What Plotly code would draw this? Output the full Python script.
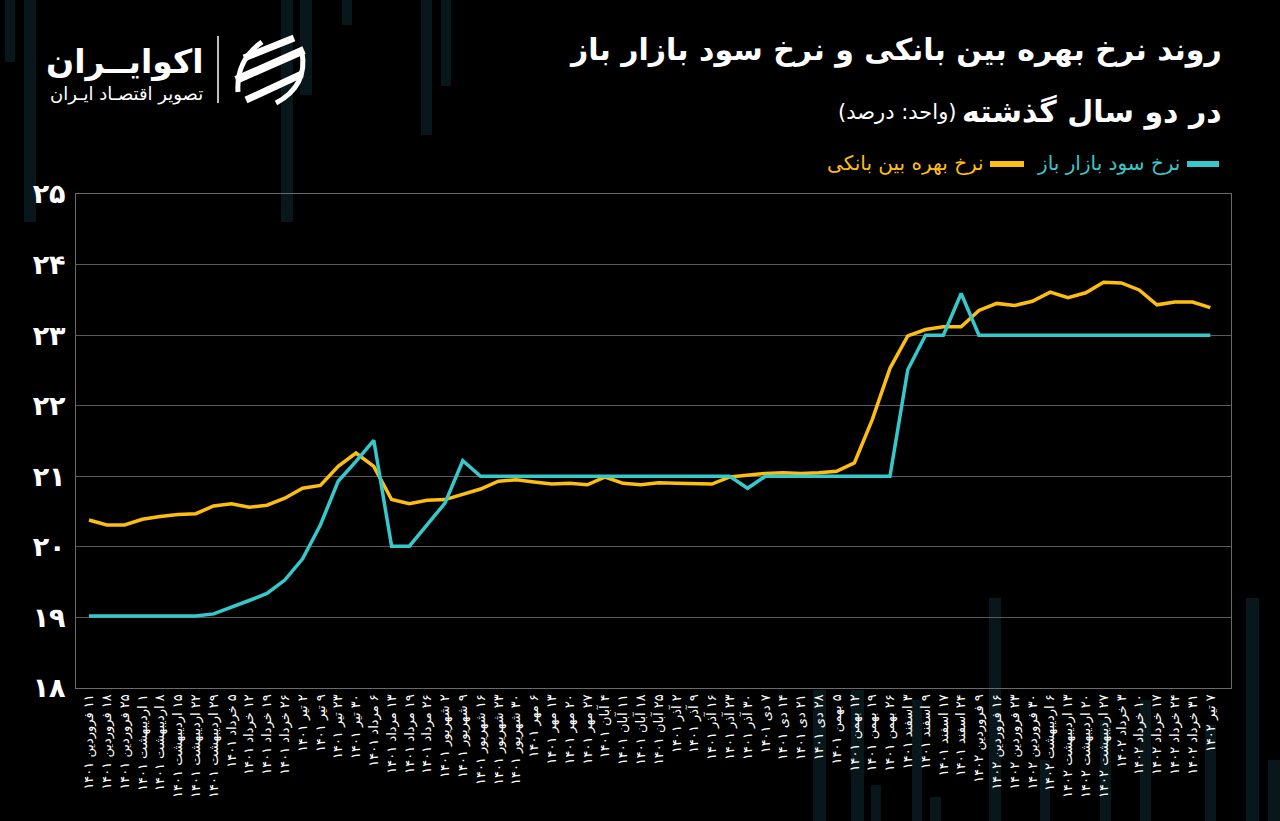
import plotly.graph_objects as go

# ---------------- data ----------------
dates = [
    "۱۱ فروردین ۱۴۰۱", "۱۸ فروردین ۱۴۰۱", "۲۵ فروردین ۱۴۰۱", "۱ اردیبهشت ۱۴۰۱",
    "۸ اردیبهشت ۱۴۰۱", "۱۵ اردیبهشت ۱۴۰۱", "۲۲ اردیبهشت ۱۴۰۱", "۲۹ اردیبهشت ۱۴۰۱",
    "۵ خرداد ۱۴۰۱", "۱۲ خرداد ۱۴۰۱", "۱۹ خرداد ۱۴۰۱", "۲۶ خرداد ۱۴۰۱",
    "۲ تیر ۱۴۰۱", "۹ تیر ۱۴۰۱", "۲۳ تیر ۱۴۰۱", "۳۰ تیر ۱۴۰۱",
    "۶ مرداد ۱۴۰۱", "۱۳ مرداد ۱۴۰۱", "۱۹ مرداد ۱۴۰۱", "۲۶ مرداد ۱۴۰۱",
    "۲ شهریور ۱۴۰۱", "۹ شهریور ۱۴۰۱", "۱۶ شهریور ۱۴۰۱", "۲۳ شهریور ۱۴۰۱",
    "۳۰ شهریور ۱۴۰۱", "۶ مهر ۱۴۰۱", "۱۳ مهر ۱۴۰۱", "۲۰ مهر ۱۴۰۱",
    "۲۷ مهر ۱۴۰۱", "۴ آبان ۱۴۰۱", "۱۱ آبان ۱۴۰۱", "۱۸ آبان ۱۴۰۱",
    "۲۵ آبان ۱۴۰۱", "۲ آذر ۱۴۰۱", "۹ آذر ۱۴۰۱", "۱۶ آذر ۱۴۰۱",
    "۲۳ آذر ۱۴۰۱", "۳۰ آذر ۱۴۰۱", "۷ دی ۱۴۰۱", "۱۴ دی ۱۴۰۱",
    "۲۱ دی ۱۴۰۱", "۲۸ دی ۱۴۰۱", "۵ بهمن ۱۴۰۱", "۱۲ بهمن ۱۴۰۱",
    "۱۹ بهمن ۱۴۰۱", "۲۶ بهمن ۱۴۰۱", "۳ اسفند ۱۴۰۱", "۹ اسفند ۱۴۰۱",
    "۱۷ اسفند ۱۴۰۱", "۲۴ اسفند ۱۴۰۱", "۹ فروردین ۱۴۰۲", "۱۶ فروردین ۱۴۰۲",
    "۲۳ فروردین ۱۴۰۲", "۳۰ فروردین ۱۴۰۲", "۶ اردیبهشت ۱۴۰۲", "۱۳ اردیبهشت ۱۴۰۲",
    "۲۰ اردیبهشت ۱۴۰۲", "۲۷ اردیبهشت ۱۴۰۲", "۳ خرداد ۱۴۰۲", "۱۰ خرداد ۱۴۰۲",
    "۱۷ خرداد ۱۴۰۲", "۲۴ خرداد ۱۴۰۲", "۳۱ خرداد ۱۴۰۲", "۷ تیر ۱۴۰۲",
]

interbank_rate = [
    20.38, 20.31, 20.31, 20.39, 20.43, 20.46, 20.47, 20.58,
    20.61, 20.56, 20.59, 20.69, 20.83, 20.87, 21.14, 21.33,
    21.14, 20.67, 20.61, 20.66, 20.67, 20.75, 20.82, 20.93,
    20.95, 20.92, 20.89, 20.90, 20.88, 20.99, 20.90, 20.88,
    20.91, 20.90, 20.90, 20.89, 20.99, 21.02, 21.04, 21.05,
    21.04, 21.05, 21.07, 21.19, 21.80, 22.53, 22.99, 23.08,
    23.12, 23.12, 23.35, 23.45, 23.42, 23.48, 23.61, 23.53,
    23.60, 23.75, 23.74, 23.64, 23.43, 23.47, 23.47, 23.39,
]

open_market_rate = [
    19.02, 19.02, 19.02, 19.02, 19.02, 19.02, 19.02, 19.05,
    19.14, 19.24, 19.34, 19.53, 19.83, 20.31, 20.93, 21.21,
    21.51, 20.01, 20.01, 20.31, 20.62, 21.22, 21.00, 21.00,
    21.00, 21.00, 21.00, 21.00, 21.00, 21.00, 21.00, 21.00,
    21.00, 21.00, 21.00, 21.00, 21.00, 20.83, 21.00, 21.00,
    21.00, 21.00, 21.00, 21.00, 21.00, 21.00, 22.51, 23.00,
    23.00, 23.59, 23.00, 23.00, 23.00, 23.00, 23.00, 23.00,
    23.00, 23.00, 23.00, 23.00, 23.00, 23.00, 23.00, 23.00,
]

y_tick_values = [18, 19, 20, 21, 22, 23, 24, 25]
y_tick_text = ["۱۸", "۱۹", "۲۰", "۲۱", "۲۲", "۲۳", "۲۴", "۲۵"]

title_line1 = "روند نرخ بهره بین بانکی و نرخ سود بازار باز"
title_line2 = "در دو سال گذشته"
title_unit = "(واحد: درصد)"
name_open = "نرخ سود بازار باز"
name_interbank = "نرخ بهره بین بانکی"
brand = "اکوایــران"
brand_sub = "تصویر اقتصـاد ایـران"

# ---------------- style ----------------
CYAN = "#35C9CB"
YELLOW = "#FDBE10"
FONT = "DejaVu Sans, Noto Sans, sans-serif"
W, H = 1280, 821
L, R, T, B = 76, 1231, 194, 688
RLE, PDF = "\u202b", "\u202c"


def rtl(s):
    return RLE + s + PDF


def px(x):
    return (x - L) / (R - L)


def py(y):
    return (B - y) / (B - T)


xs = list(range(len(dates)))

fig = go.Figure()
fig.add_trace(go.Scatter(x=xs, y=interbank_rate, mode="lines", name=name_interbank,
                         line=dict(color=YELLOW, width=3.5), showlegend=False))
fig.add_trace(go.Scatter(x=xs, y=open_market_rate, mode="lines", name=name_open,
                         line=dict(color=CYAN, width=3.5), showlegend=False))

shapes = []
# faint decorative background bars
bars = [(5, 0, 15, 62), (24, 0, 36, 222), (281, 0, 293, 222), (300, 0, 312, 95),
        (342, 0, 352, 25), (421, 0, 432, 135), (441, 0, 451, 86),
        (989, 598, 1001, 821), (1246, 598, 1259, 821), (813, 690, 826, 821),
        (851, 690, 864, 821), (871, 785, 881, 821), (930, 797, 941, 821),
        (1100, 720, 1111, 821), (1140, 700, 1151, 821), (1205, 725, 1216, 821),
        (1268, 760, 1280, 821), (912, 700, 922, 821), (1040, 760, 1050, 821)]
for (x0, y0, x1, y1) in bars:
    shapes.append(dict(type="rect", xref="paper", yref="paper", layer="below",
                       x0=px(x0), x1=px(x1), y0=py(y1), y1=py(y0),
                       fillcolor="#07171b", line=dict(width=0)))

# logo separator
shapes.append(dict(type="line", xref="paper", yref="paper",
                   x0=px(218), x1=px(218), y0=py(36), y1=py(103),
                   line=dict(color="white", width=1.5)))
# logo icon: swooshes
for (a, b, c, d, w) in [(244, 58, 294, 38, 7), (236, 80, 304, 50, 8), (246, 100, 302, 74, 7)]:
    shapes.append(dict(type="line", xref="paper", yref="paper",
                       x0=px(a), y0=py(b), x1=px(c), y1=py(d),
                       line=dict(color="white", width=w)))
shapes.append(dict(type="path", xref="paper", yref="paper",
                   path="M {} {} Q {} {} {} {}".format(px(238), py(92), px(236), py(60), px(262), py(42)),
                   line=dict(color="white", width=5)))
shapes.append(dict(type="path", xref="paper", yref="paper",
                   path="M {} {} Q {} {} {} {}".format(px(302), py(52), px(308), py(86), px(276), py(103)),
                   line=dict(color="white", width=5)))

# legend swatches
shapes.append(dict(type="line", xref="paper", yref="paper",
                   x0=px(1187), x1=px(1219), y0=py(164), y1=py(164),
                   line=dict(color=CYAN, width=6)))
shapes.append(dict(type="line", xref="paper", yref="paper",
                   x0=px(990), x1=px(1024), y0=py(164), y1=py(164),
                   line=dict(color=YELLOW, width=6)))

annotations = [
    dict(text=rtl(title_line1), x=px(1224), y=py(50), xanchor="right", yanchor="middle",
         font=dict(size=30, color="white", family=FONT, weight="bold")),
    dict(text=rtl(title_line2), x=px(1224), y=py(112), xanchor="right", yanchor="middle",
         font=dict(size=30, color="white", family=FONT, weight="bold")),
    dict(text=rtl(title_unit), x=px(958), y=py(112), xanchor="right", yanchor="middle",
         font=dict(size=21, color="white", family=FONT)),
    dict(text=rtl(name_open), x=px(1182), y=py(163), xanchor="right", yanchor="middle",
         font=dict(size=20, color=CYAN, family=FONT)),
    dict(text=rtl(name_interbank), x=px(986), y=py(163), xanchor="right", yanchor="middle",
         font=dict(size=20, color=YELLOW, family=FONT)),
    dict(text=rtl(brand), x=px(205), y=py(62), xanchor="right", yanchor="middle",
         font=dict(size=33, color="white", family=FONT, weight="bold")),
    dict(text=rtl(brand_sub), x=px(205), y=py(94), xanchor="right", yanchor="middle",
         font=dict(size=18, color="white", family=FONT)),
]
for a in annotations:
    a.update(xref="paper", yref="paper", showarrow=False)

fig.update_layout(
    width=W, height=H,
    margin=dict(l=L, r=W - R, t=T, b=H - B, pad=0),
    paper_bgcolor="black", plot_bgcolor="rgba(0,0,0,0)",
    shapes=shapes, annotations=annotations, showlegend=False,
    xaxis=dict(range=[-0.73, 64.16], tickmode="array", tickvals=xs,
               ticktext=[rtl(d) for d in dates], tickangle=-90,
               tickfont=dict(size=13, color="white", family=FONT),
               showgrid=False, zeroline=False, showline=True, mirror=True,
               linecolor="#6a6a6a", linewidth=1, ticks=""),
    yaxis=dict(range=[18, 25], tickmode="array", tickvals=y_tick_values,
               ticktext=y_tick_text,
               tickfont=dict(size=27, color="white", family=FONT, weight="bold"),
               showgrid=True, gridcolor="#5a5a5a", gridwidth=1, zeroline=False,
               showline=True, mirror=True, linecolor="#6a6a6a", linewidth=1,
               ticks="", ticklabelstandoff=4),
)

fig.write_html("out.html")
